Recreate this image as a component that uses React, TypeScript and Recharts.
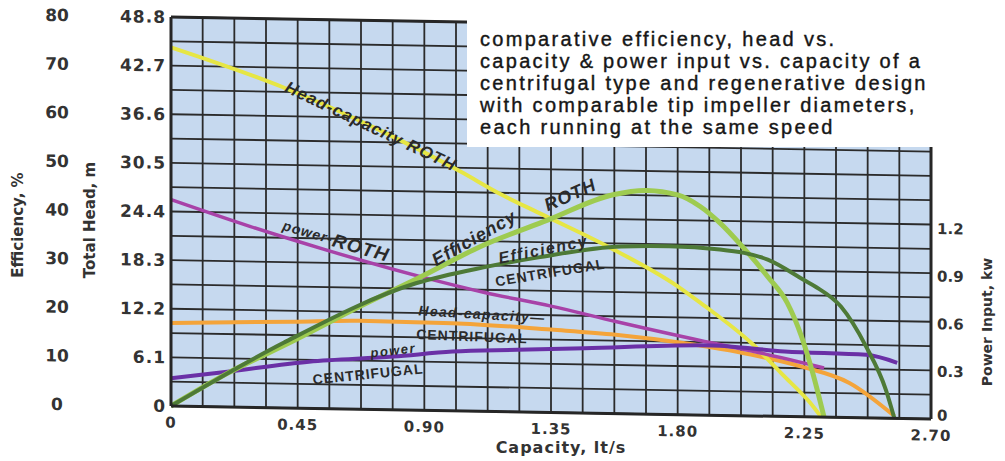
import React from 'react';
import {
  LineChart,
  Line,
  XAxis,
  YAxis,
  CartesianGrid,
  ReferenceDot,
  ReferenceLine
} from 'recharts';

// capacity (l/s) grid steps, labelled every 4th
const X_GRID = [0, 0.1125, 0.225, 0.3375, 0.45, 0.5625, 0.675, 0.7875, 0.9, 1.0125, 1.125, 1.2375, 1.35,
  1.4625, 1.575, 1.6875, 1.8, 1.9125, 2.025, 2.1375, 2.25, 2.3625, 2.475, 2.5875, 2.7];
const X_LABELS = ['0', '0.45', '0.90', '1.35', '1.80', '2.25', '2.70'];
const EFF_TICKS = [0, 5, 10, 15, 20, 25, 30, 35, 40, 45, 50, 55, 60, 65, 70, 75, 80];
const HEAD_TICKS = [0, 6.1, 12.2, 18.3, 24.4, 30.5, 36.6, 42.7, 48.8];
const POWER_TICKS = [0, 0.3, 0.6, 0.9, 1.2];

// Head-capacity ROTH (m)
const ROTH_HEAD_X = [0, 0.4, 0.75, 1.03, 1.17, 1.32, 1.56, 1.8, 1.88, 2.06, 2.18, 2.27, 2.31];
const ROTH_HEAD_Y = [45.0, 40.2, 34.9, 30.0, 27.3, 24.8, 20.8, 16.1, 14.1, 9.2, 5.0, 1.8, 0];

// power ROTH (kW)
const ROTH_POWER_X = [0, 0.28, 0.55, 0.89, 1.11, 1.35, 1.58, 1.88, 2.06, 2.32];
const ROTH_POWER_Y = [1.30, 1.14, 1.00, 0.84, 0.75, 0.67, 0.58, 0.47, 0.41, 0.31];

// Efficiency ROTH (%)
const ROTH_EFF_X = [0, 0.2, 0.44, 0.67, 0.89, 1.1, 1.34, 1.57, 1.69, 1.8, 1.88, 1.95, 2.03, 2.12, 2.19, 2.24, 2.28, 2.32];
const ROTH_EFF_Y = [0, 6.9, 14.0, 21.1, 27.5, 33.9, 39.6, 45.0, 46.0, 45.2, 42.9, 39.6, 34.8, 28.7, 23.3, 16.5, 9.0, 0];

// Efficiency CENTRIFUGAL (%)
const CEN_EFF_X = [0, 0.4, 0.87, 1.11, 1.3, 1.6, 1.77, 1.95, 2.12, 2.25, 2.29, 2.38, 2.47, 2.54, 2.57];
const CEN_EFF_Y = [0, 13.4, 26.1, 29.6, 31.8, 34.4, 34.6, 34.1, 32.2, 28.1, 26.8, 22.8, 14.6, 5.8, 0];

// Head-capacity CENTRIFUGAL (m)
const CEN_HEAD_X = [0, 0.44, 0.67, 1.0, 1.35, 1.58, 1.82, 2.06, 2.24, 2.41, 2.57];
const CEN_HEAD_Y = [10.4, 10.85, 11.1, 11.0, 10.4, 9.9, 9.0, 7.7, 6.3, 4.35, 0.3];

// power CENTRIFUGAL (kW)
const CEN_POWER_X = [0, 0.2, 0.49, 0.79, 1.0, 1.23, 1.47, 1.92, 2.18, 2.47, 2.58];
const CEN_POWER_Y = [0.175, 0.222, 0.294, 0.335, 0.373, 0.391, 0.409, 0.44, 0.41, 0.397, 0.35];

// curve captions, anchored in capacity / efficiency units
const CAPTIONS = [
  { parts: [['Head-capacity ROTH', 17]], x: 0.71, y: 58.3, angle: 24.5, italic: true, ls: 1 },
  { parts: [['power-', 14], ['ROTH', 19]], x: 0.586, y: 34.7, angle: 15, italic: true, ls: 1 },
  { parts: [['Efficiency', 18]], x: 1.077, y: 35.6, angle: -30.3, italic: true, ls: 1 },
  { parts: [['ROTH', 18]], x: 1.418, y: 44.8, angle: -24.8, italic: true, ls: 1 },
  { parts: [['Efficiency', 16]], x: 1.322, y: 33.6, angle: -12.3, italic: true, ls: 1.6 },
  { parts: [['CENTRIFUGAL', 14]], x: 1.347, y: 28.8, angle: -10.3, italic: false, ls: 1 },
  { parts: [['Head-capacity—', 14]], x: 1.105, y: 20.0, angle: 2.4, italic: true, ls: 1.3 },
  { parts: [['CENTRIFUGAL', 14]], x: 1.069, y: 15.4, angle: 1.3, italic: false, ls: 1 },
  { parts: [['power', 13]], x: 0.789, y: 12.3, angle: -7.4, italic: true, ls: 1.5 },
  { parts: [['CENTRIFUGAL', 14]], x: 0.70, y: 7.3, angle: -6.7, italic: false, ls: 1 }
];

const zip = (xs: number[], ys: number[]) => xs.map((x, i) => ({ x, y: ys[i] }));

const TICK_FONT = '"DejaVu Sans", sans-serif';
const INK = '#333333';

const PowerTick = (p: any) => {
  const v = p.payload.value;
  return (
    <text
      x={p.x}
      y={p.y + (v === 0 ? -4 : 0)}
      dy="0.355em"
      textAnchor="start"
      fill={INK}
      fontSize={15}
      fontWeight={700}
      fontFamily={TICK_FONT}
    >
      {v === 0 ? '0' : v.toFixed(1)}
    </text>
  );
};

const Title = ({ text, cx, cy, w, size, rotate }: any) => (
  <div
    style={{
      position: 'absolute',
      left: cx - w / 2,
      top: cy - 12,
      width: w,
      height: 24,
      lineHeight: '24px',
      textAlign: 'center',
      fontFamily: TICK_FONT,
      fontWeight: 700,
      fontSize: size,
      color: INK,
      whiteSpace: 'nowrap',
      transform: rotate ? 'rotate(-90deg)' : undefined
    }}
  >
    {text}
  </div>
);

export default function App() {
  return (
    <div style={{ position: 'absolute', left: 0, top: 0, width: 1005, height: 461, background: '#fff', overflow: 'hidden' }}>
      <div style={{ position: 'absolute', left: 0, top: 0, transform: 'skewY(0.98deg)', transformOrigin: '171px 406px' }}>
        <LineChart width={1005} height={461} margin={{ top: 17, right: 14, bottom: 25, left: 8 }}>
          <CartesianGrid
            yAxisId="pct"
            stroke="#2b2b2b"
            strokeWidth={1.8}
            fill="#c6d9ef"
            fillOpacity={1}
          />
          <XAxis
            dataKey="x"
            type="number"
            domain={[0, 2.7]}
            ticks={X_GRID}
            interval={0}
            tickFormatter={(v: number, i: number) => (i % 4 === 0 ? X_LABELS[i / 4] : '')}
            tickSize={0}
            tickMargin={11}
            height={30}
            axisLine={{ stroke: '#262626', strokeWidth: 3 }}
            tickLine={false}
            tick={{ fill: INK, fontSize: 15, fontWeight: 700, fontFamily: TICK_FONT, letterSpacing: 1 }}
          />
          <YAxis
            yAxisId="head"
            orientation="left"
            domain={[0, 48.8]}
            ticks={HEAD_TICKS}
            interval={0}
            width={63}
            tickSize={0}
            tickMargin={5}
            tickFormatter={(v: number) => (v === 0 ? '0' : v.toFixed(1))}
            axisLine={{ stroke: '#262626', strokeWidth: 3 }}
            tickLine={false}
            tick={{ fill: INK, fontSize: 17, fontWeight: 700, fontFamily: TICK_FONT, letterSpacing: 1 }}
          />
          <YAxis
            yAxisId="pct"
            orientation="left"
            domain={[0, 80]}
            ticks={EFF_TICKS}
            interval={0}
            width={100}
            tickSize={0}
            tickMargin={51}
            tickFormatter={(v: number) => (v % 10 === 0 ? String(v) : '')}
            axisLine={false}
            tickLine={false}
            tick={{ fill: INK, fontSize: 17, fontWeight: 700, fontFamily: TICK_FONT, textAnchor: 'middle' }}
          />
          <YAxis
            yAxisId="pow"
            orientation="right"
            domain={[0, 2.45]}
            ticks={POWER_TICKS}
            interval={0}
            width={60}
            tickSize={0}
            tickMargin={6}
            axisLine={{ stroke: '#262626', strokeWidth: 3 }}
            tickLine={false}
            tick={PowerTick}
          />
          <ReferenceLine yAxisId="pct" y={80} stroke="#262626" strokeWidth={3} />

          <Line data={zip(CEN_HEAD_X, CEN_HEAD_Y)} dataKey="y" yAxisId="head" type="monotone"
            stroke="#f4a43a" strokeWidth={4} dot={false} isAnimationActive={false} />
          <Line data={zip(ROTH_HEAD_X, ROTH_HEAD_Y)} dataKey="y" yAxisId="head" type="monotone"
            stroke="#e6e644" strokeWidth={4} dot={false} isAnimationActive={false} />
          <Line data={zip(ROTH_POWER_X, ROTH_POWER_Y)} dataKey="y" yAxisId="pow" type="monotone"
            stroke="#a842a8" strokeWidth={3.5} dot={false} isAnimationActive={false} />
          <Line data={zip(CEN_POWER_X, CEN_POWER_Y)} dataKey="y" yAxisId="pow" type="monotone"
            stroke="#6a30a6" strokeWidth={4} dot={false} isAnimationActive={false} />
          <Line data={zip(ROTH_EFF_X, ROTH_EFF_Y)} dataKey="y" yAxisId="pct" type="monotone"
            stroke="#9ecb50" strokeWidth={5} dot={false} isAnimationActive={false} />
          <Line data={zip(CEN_EFF_X, CEN_EFF_Y)} dataKey="y" yAxisId="pct" type="monotone"
            stroke="#4e7a37" strokeWidth={4} dot={false} isAnimationActive={false} />

          {CAPTIONS.map((c, i) => (
            <ReferenceDot
              key={i}
              x={c.x}
              y={c.y}
              yAxisId="pct"
              ifOverflow="visible"
              shape={(p: any) => (
                <text
                  x={p.cx}
                  y={p.cy}
                  transform={`rotate(${c.angle} ${p.cx} ${p.cy})`}
                  textAnchor="middle"
                  dominantBaseline="central"
                  fontFamily='"Liberation Sans", Arial, sans-serif'
                  fontWeight={700}
                  fontStyle={c.italic ? 'italic' : 'normal'}
                  fill="#2a2a2a"
                  letterSpacing={c.ls}
                >
                  {c.parts.map(([t, s], j) => (
                    <tspan key={j} fontSize={s as number}>{t}</tspan>
                  ))}
                </text>
              )}
            />
          ))}
        </LineChart>
      </div>

      <div
        style={{
          position: 'absolute',
          left: 467,
          top: 18,
          width: 478,
          height: 129,
          background: '#fff',
          boxSizing: 'border-box',
          padding: '21px 0 0 13px',
          fontFamily: '"Liberation Sans", Arial, sans-serif',
          fontSize: 20,
          lineHeight: '22px',
          letterSpacing: 2.3,
          color: '#161616',
          WebkitTextStroke: '0.4px #161616',
          whiteSpace: 'nowrap'
        }}
      >
        <div style={{ marginTop: -11 }}>comparative efficiency, head vs.</div>
        <div>capacity &amp; power input vs. capacity of a</div>
        <div>centrifugal type and regenerative design</div>
        <div>with comparable tip impeller diameters,</div>
        <div>each running at the same speed</div>
      </div>

      <Title text="Efficiency, %" cx={18} cy={225} w={140} size={15} rotate />
      <Title text="Total Head, m" cx={90} cy={220} w={140} size={15} rotate />
      <Title text="Power Input, kw" cx={987} cy={322} w={160} size={14} rotate />
      <div
        style={{
          position: 'absolute',
          left: 436,
          top: 438,
          width: 250,
          textAlign: 'center',
          fontFamily: TICK_FONT,
          fontWeight: 700,
          fontSize: 16,
          letterSpacing: 1,
          color: INK
        }}
      >
        Capacity, lt/s
      </div>
    </div>
  );
}
